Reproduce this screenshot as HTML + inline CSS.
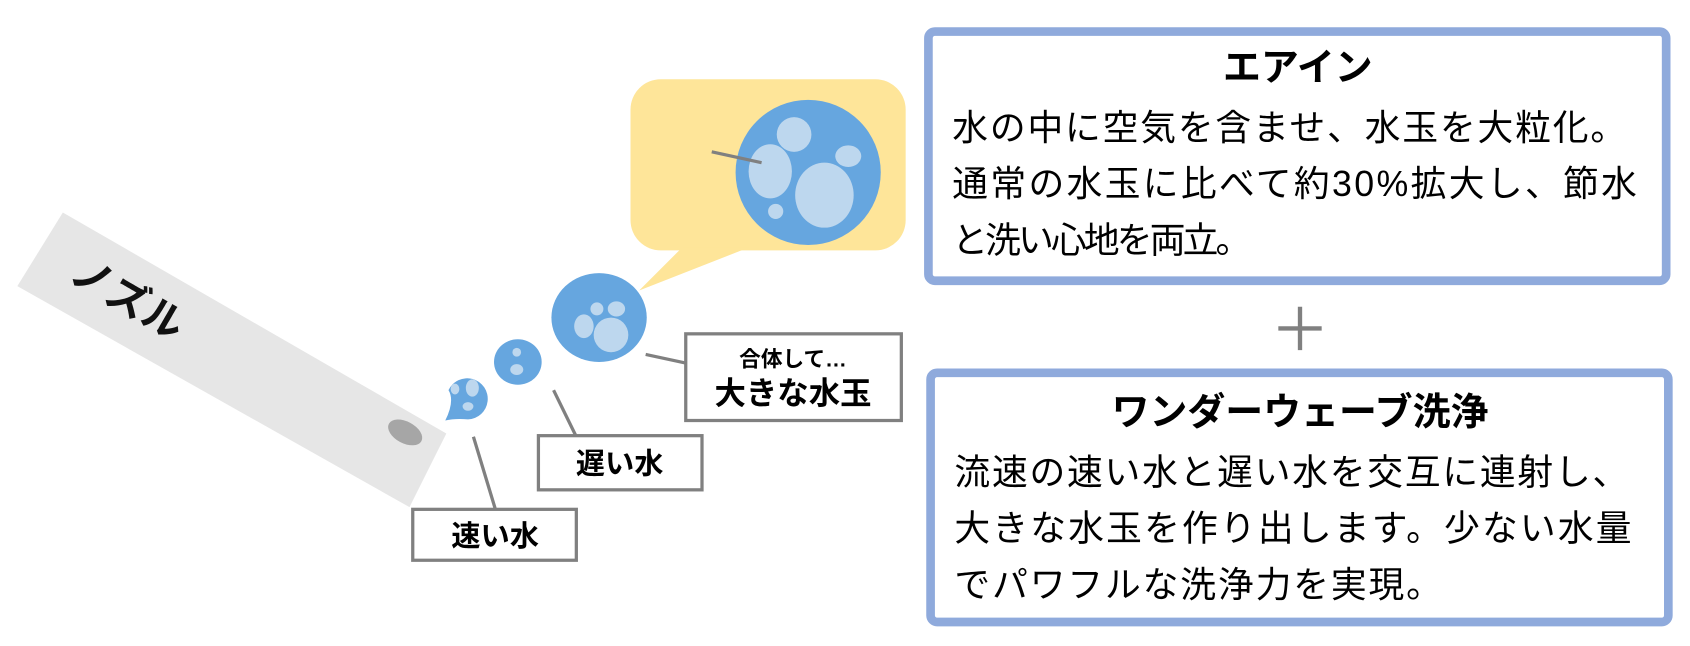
<!DOCTYPE html>
<html><head><meta charset="utf-8"><style>
html,body{margin:0;padding:0;background:#fff;}
svg{display:block;font-family:"Liberation Sans","Noto Sans CJK JP",sans-serif;}
</style></head><body>
<svg width="1690" height="646" viewBox="0 0 1560 596" xmlns="http://www.w3.org/2000/svg">
<polygon points="58,196 412,400 378,468 16,264" fill="#e6e6e6"/>
<ellipse cx="374" cy="399" rx="17" ry="10" transform="rotate(28 374 399)" fill="#a6a6a6"/>
<text x="0" y="0" font-size="38" font-weight="bold" fill="#111" transform="translate(62,258) rotate(30)">ノズル</text>
<rect x="582" y="73" width="254" height="158" rx="28" fill="#fee599"/>
<polygon points="630,228 692,228 590,268" fill="#fee599"/>
<circle cx="746" cy="159" r="67" fill="#66a6df"/>
<g fill="#bdd7ee">
<circle cx="733" cy="124" r="16"/>
<ellipse cx="711" cy="158" rx="20" ry="25"/>
<ellipse cx="761" cy="180" rx="27" ry="30"/>
<ellipse cx="783" cy="144" rx="12" ry="10"/>
<circle cx="716" cy="195" r="7"/>
</g>
<line x1="657" y1="140" x2="703" y2="150" stroke="#808080" stroke-width="3"/>
<ellipse cx="553" cy="293" rx="44" ry="41" fill="#66a6df"/>
<g fill="#bdd7ee">
<circle cx="551" cy="285" r="6"/>
<ellipse cx="569" cy="285" rx="8" ry="7"/>
<ellipse cx="539" cy="301" rx="9" ry="11"/>
<ellipse cx="564" cy="309" rx="16" ry="16"/>
</g>
<ellipse cx="478" cy="334" rx="22" ry="21" fill="#66a6df"/>
<g fill="#bdd7ee">
<circle cx="477" cy="325" r="4"/>
<ellipse cx="477" cy="341" rx="6" ry="5"/>
</g>
<path d="M411,388 Q420,370 414,360 A19,19 0 1 1 432,387 Q420,386 411,388 Z" fill="#66a6df"/>
<g fill="#bdd7ee">
<ellipse cx="420" cy="359" rx="4" ry="5"/>
<ellipse cx="436" cy="358" rx="6" ry="8"/>
<ellipse cx="432" cy="375" rx="5" ry="4"/>
</g>
<g stroke="#808080" stroke-width="3">
<line x1="437" y1="403" x2="457" y2="469"/>
<line x1="511" y1="360" x2="532" y2="403"/>
<line x1="596" y1="327" x2="633" y2="335"/>
</g>
<g fill="#fff" stroke="#808080" stroke-width="3">
<rect x="381" y="470" width="151" height="47"/>
<rect x="497" y="402" width="151" height="50"/>
<rect x="633" y="308" width="199" height="80"/>
</g>
<g font-weight="bold" fill="#000" text-anchor="middle">
<text x="457" y="504" font-size="27">速い水</text>
<text x="572" y="437" font-size="27">遅い水</text>
<text x="732" y="338" font-size="20">合体して…</text>
<text x="732" y="373" font-size="29">大きな水玉</text>
</g>
<rect x="857" y="29" width="681" height="230" rx="6" fill="#fff" stroke="#8faadc" stroke-width="8"/>
<text x="1198" y="74" font-size="35" font-weight="bold" text-anchor="middle">エアイン</text>
<g font-size="33" fill="#000">
<text x="879" y="129" textLength="622">水の中に空気を含ませ、水玉を大粒化。</text>
<text x="879" y="181" textLength="632">通常の水玉に比べて約30%拡大し、節水</text>
<text x="879" y="233" textLength="276">と洗い心地を両立。</text>
</g>
<g stroke="#808080" stroke-width="4">
<line x1="1180" y1="303" x2="1220" y2="303"/>
<line x1="1200" y1="283" x2="1200" y2="323"/>
</g>
<rect x="859" y="344" width="681" height="230" rx="6" fill="#fff" stroke="#8faadc" stroke-width="8"/>
<text x="1200" y="392" font-size="35" font-weight="bold" text-anchor="middle">ワンダーウェーブ洗浄</text>
<g font-size="33" fill="#000">
<text x="881" y="447" textLength="622">流速の速い水と遅い水を交互に連射し、</text>
<text x="881" y="499" textLength="625">大きな水玉を作り出します。少ない水量</text>
<text x="881" y="551" textLength="450">でパワフルな洗浄力を実現。</text>
</g>
</svg>
</body></html>
